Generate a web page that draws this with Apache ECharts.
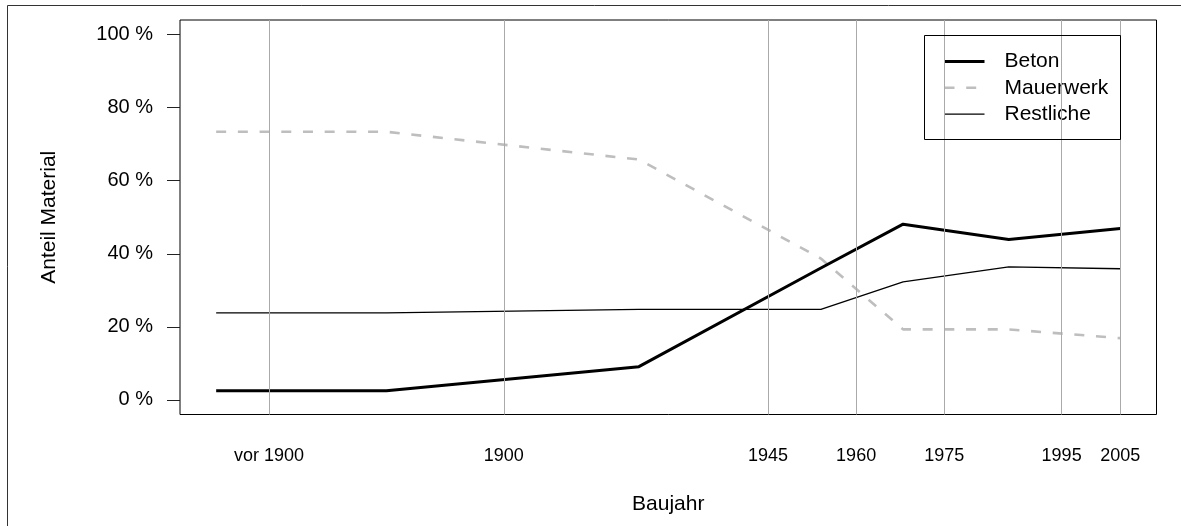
<!DOCTYPE html>
<html>
<head>
<meta charset="utf-8">
<script src="https://cdn.jsdelivr.net/npm/echarts@6/dist/echarts.min.js"></script>
<style>
html,body{margin:0;padding:0;background:#fff;}
#chart{width:1181px;height:526px;}
</style>
</head>
<body>
<div id="chart"></div>
<script>
// Data
const years = [1851, 1880, 1923, 1954, 1968, 1986, 2005];
const beton = [2.5, 2.5, 9.1, 36.1, 48.1, 43.9, 46.9];
const mauerwerk = [73.4, 73.4, 65.8, 38.7, 19.3, 19.3, 16.9];
const restliche = [23.8, 23.8, 24.8, 24.8, 32.3, 36.4, 35.9];
const xGridValues = [1860, 1900, 1945, 1960, 1975, 1995, 2005];
const xTickValues = [1900, 1945, 1960, 1975, 1995, 2005];
const xTickLabels = {1860: 'vor 1900', 1900: '1900', 1945: '1945', 1960: '1960', 1975: '1975', 1995: '1995', 2005: '2005'};
const yTickValues = [0, 20, 40, 60, 80, 100];
const seriesNames = ['Beton', 'Mauerwerk', 'Restliche'];

const pair = (xs, ys) => xs.map((x, i) => [x, ys[i]]);
const xr = years[years.length - 1] - years[0];
const xMin = years[0] - 0.04 * xr;
const xMax = years[years.length - 1] + 0.04 * xr;

const FONT = '"Liberation Sans", Arial, Helvetica, sans-serif';

const chart = echarts.init(document.getElementById('chart'), null, {renderer: 'canvas'});
chart.setOption({
  animation: false,
  backgroundColor: '#ffffff',
  textStyle: {fontFamily: FONT, color: '#000'},
  grid: {
    left: 180, right: 24.5, top: 20, bottom: 111.5,
    show: true, borderColor: '#000', borderWidth: 1,
    containLabel: false, outerBoundsMode: 'none'
  },
  xAxis: {
    type: 'value', min: xMin, max: xMax,
    name: 'Baujahr', nameLocation: 'middle', nameGap: 79,
    nameTextStyle: {fontSize: 21, color: '#000', fontFamily: FONT},
    axisLine: {show: false},
    splitLine: {show: false},
    axisTick: {show: true, customValues: xTickValues, length: 12, lineStyle: {color: '#222', width: 1}},
    axisLabel: {
      customValues: xGridValues, margin: 33, fontSize: 18, color: '#000', fontFamily: FONT,
      formatter: v => xTickLabels[Math.round(v)] || ''
    }
  },
  yAxis: {
    type: 'value', min: -4, max: 104,
    name: 'Anteil Material', nameLocation: 'middle', nameGap: 120, nameRotate: 90,
    nameTextStyle: {fontSize: 21, color: '#000', fontFamily: FONT},
    axisLine: {show: false},
    splitLine: {show: false},
    axisTick: {show: true, customValues: yTickValues, length: 13, lineStyle: {color: '#222', width: 1}},
    axisLabel: {
      customValues: yTickValues, margin: 27, fontSize: 20, color: '#000', fontFamily: FONT,
      formatter: v => Math.round(v) + ' %'
    }
  },
  legend: {
    data: seriesNames,
    orient: 'vertical',
    left: 943, top: 51,
    padding: 0,
    itemWidth: 40, itemHeight: 14, itemGap: 5.3,
    itemStyle: {opacity: 0},
    lineStyle: {width: 'inherit', type: 'inherit', color: 'inherit'},
    textStyle: {fontSize: 21, lineHeight: 21, color: '#000', fontFamily: FONT, padding: [0, 0, 0, 15]},
    selectedMode: false
  },
  graphic: [
    {type: 'rect', silent: true, z: 0, shape: {x: 7.5, y: 5.5, width: 1300, height: 700},
     style: {fill: 'none', stroke: '#333', lineWidth: 1}},
    {type: 'rect', silent: true, z: 100, shape: {x: 924.5, y: 35.5, width: 196, height: 104},
     style: {fill: 'none', stroke: '#000', lineWidth: 1}}
  ],
  series: [
    {
      name: 'grid', type: 'line', data: [], silent: true, z: 1,
      markLine: {
        silent: true, symbol: ['none', 'none'], label: {show: false},
        lineStyle: {color: '#aaaaaa', type: 'solid', width: 1},
        emphasis: {disabled: true},
        data: xGridValues.map(v => ({xAxis: v}))
      }
    },
    {
      name: 'Beton', type: 'line', data: pair(years, beton), z: 4,
      symbol: 'none', showSymbol: false,
      lineStyle: {color: '#000', width: 3, type: 'solid'},
      itemStyle: {color: '#000'}
    },
    {
      name: 'Mauerwerk', type: 'line', data: pair(years, mauerwerk), z: 3,
      symbol: 'none', showSymbol: false,
      lineStyle: {color: '#bebebe', width: 2.6, type: [10, 11.7]},
      itemStyle: {color: '#bebebe'}
    },
    {
      name: 'Restliche', type: 'line', data: pair(years, restliche), z: 3,
      symbol: 'none', showSymbol: false,
      lineStyle: {color: '#000', width: 1.3, type: 'solid'},
      itemStyle: {color: '#000'}
    }
  ]
});
</script>
</body>
</html>
